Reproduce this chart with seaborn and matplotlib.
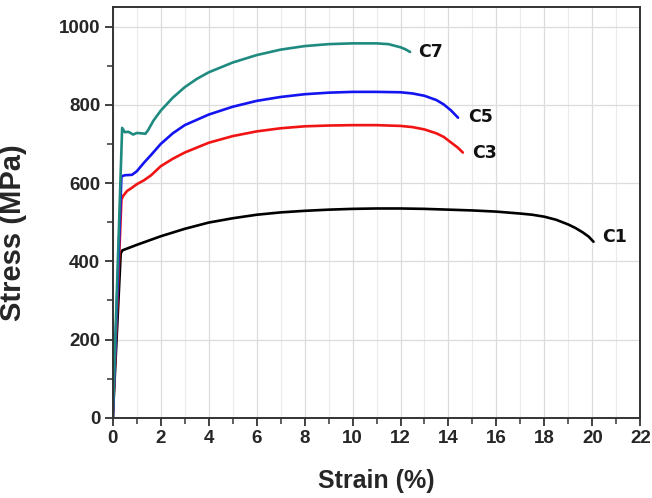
import matplotlib
matplotlib.use("Agg")
import matplotlib.pyplot as plt
import seaborn as sns
import pandas as pd
from matplotlib.ticker import MultipleLocator

# C1 (black)
c1_strain = [0, 0.33, 0.4, 0.7, 1, 1.5, 2, 3, 4, 5, 6, 7, 8, 9, 10, 11, 12, 13,
             14, 15, 16, 17, 17.5, 18, 18.5, 19, 19.3, 19.6, 19.85, 20.05]
c1_stress = [0, 420, 428, 435, 442, 453, 464, 483, 499, 510, 519, 525, 529, 532,
             534, 535, 535, 534, 532, 530, 527, 522, 519, 514, 506, 494, 485,
             474, 463, 450]

# C3 (red)
c3_strain = [0, 0.36, 0.43, 0.6, 0.8, 1.0, 1.3, 1.6, 2, 2.5, 3, 4, 5, 6, 7, 8, 9,
             10, 11, 12, 12.5, 13, 13.5, 13.8, 14.1, 14.4, 14.6]
c3_stress = [0, 558, 567, 580, 588, 597, 607, 620, 643, 662, 678, 703, 720, 732,
             740, 745, 747, 748, 748, 746, 743, 737, 727, 718, 704, 690, 678]

# C5 (blue)
c5_strain = [0, 0.36, 0.5, 0.8, 1.0, 1.3, 1.6, 2, 2.5, 3, 4, 5, 6, 7, 8, 9, 10,
             11, 12, 12.5, 13, 13.5, 13.8, 14.1, 14.4]
c5_stress = [0, 617, 620, 621, 630, 652, 672, 700, 727, 748, 775, 795, 810, 820,
             827, 831, 833, 833, 832, 829, 823, 812, 801, 786, 767]

# C7 (teal)
c7_strain = [0, 0.39, 0.5, 0.65, 0.85, 1.0, 1.2, 1.36, 1.47, 1.7, 2, 2.5, 3, 3.5,
             4, 5, 6, 7, 8, 9, 10, 11, 11.5, 12, 12.2, 12.4]
c7_stress = [0, 741, 730, 731, 724, 728, 727, 726, 735, 760, 785, 818, 845, 866,
             883, 908, 927, 941, 950, 955, 957, 957, 955, 947, 942, 935]

samples = ["C1", "C3", "C5", "C7"]
colors = ["#000000", "#f01414", "#1414f0", "#1f8a80"]
label_pos = [(20.4, 462), (15.0, 677), (14.8, 768), (12.75, 935)]

frames = []
for name, xs, ys in zip(samples, [c1_strain, c3_strain, c5_strain, c7_strain],
                        [c1_stress, c3_stress, c5_stress, c7_stress]):
    frames.append(pd.DataFrame({"strain": xs, "stress": ys, "sample": name}))
df = pd.concat(frames, ignore_index=True)

sns.set_theme(style="ticks")
plt.rcParams["font.family"] = ["Liberation Sans", "DejaVu Sans"]

fig = plt.figure(figsize=(6.52, 4.98), dpi=100)
ax = fig.add_axes([0.173, 0.161, 0.809, 0.825])

sns.lineplot(data=df, x="strain", y="stress", hue="sample", palette=colors,
             estimator=None, sort=False, linewidth=1.9, legend=False, ax=ax)

# curve labels
for name, (tx, ty) in zip(samples, label_pos):
    ax.text(tx, ty, name, fontsize=12.5, fontweight="bold", family="DejaVu Sans",
            va="center", ha="left", color="#111111")

ax.set_xlim(0, 22)
ax.set_ylim(0, 1050)
ax.xaxis.set_major_locator(MultipleLocator(2))
ax.xaxis.set_minor_locator(MultipleLocator(1))
ax.yaxis.set_major_locator(MultipleLocator(200))
ax.yaxis.set_minor_locator(MultipleLocator(100))

ax.grid(which="major", axis="both", color="#dcdcdc", linewidth=0.9)
ax.grid(which="minor", axis="x", color="#ebebeb", linewidth=0.8)
ax.set_axisbelow(True)

for sp in ax.spines.values():
    sp.set_color("#333333")
    sp.set_linewidth(1.4)

ax.tick_params(which="major", direction="out", length=6, width=1.3,
               color="#333333", labelsize=13.5, pad=3)
ax.tick_params(which="minor", direction="out", length=4, width=1.1,
               color="#333333")
for lab in ax.get_xticklabels() + ax.get_yticklabels():
    lab.set_fontweight("bold")

ax.set_xlabel("Strain (%)", fontsize=18, fontweight="bold")
ax.set_ylabel("Stress (MPa)", fontsize=21, fontweight="bold")
ax.xaxis.set_label_coords(0.5, -0.125)
ax.yaxis.set_label_coords(-0.162, 0.45)

fig.savefig("out.png", dpi=100)
plt.close(fig)
